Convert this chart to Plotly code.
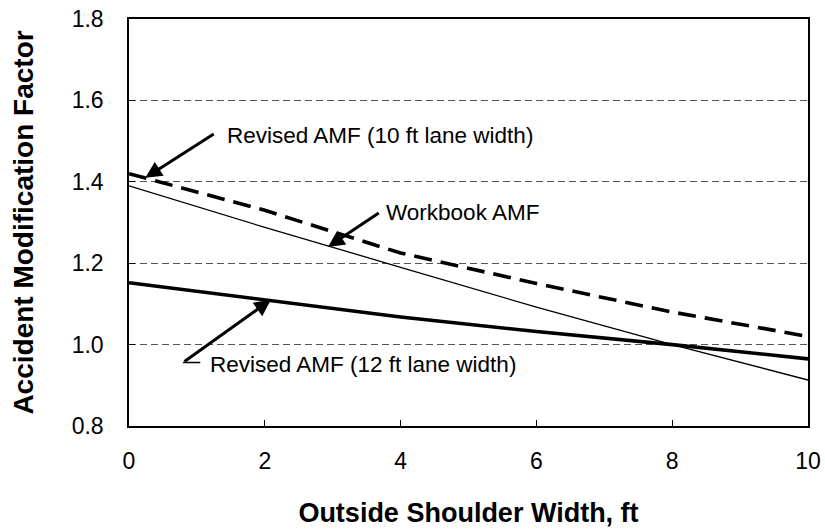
import plotly.graph_objects as go

shoulder_width = [0, 2, 4, 6, 8, 10]
amf_revised_10ft = [1.42, 1.33, 1.225, 1.15, 1.08, 1.02]
amf_workbook = [1.39, 1.288, 1.19, 1.092, 1.0, 0.913]
amf_revised_12ft = [1.152, 1.11, 1.068, 1.032, 1.0, 0.965]

y_ticks = [0.8, 1.0, 1.2, 1.4, 1.6, 1.8]
x_ticks = [0, 2, 4, 6, 8, 10]

FONT = "Liberation Sans, Arial, sans-serif"

fig = go.Figure()
fig.add_trace(go.Scatter(x=shoulder_width, y=amf_workbook, mode="lines",
                         line=dict(color="black", width=1.3), name="Workbook AMF"))
fig.add_trace(go.Scatter(x=shoulder_width, y=amf_revised_12ft, mode="lines",
                         line=dict(color="black", width=3.6), name="Revised AMF (12 ft lane width)"))
fig.add_trace(go.Scatter(x=shoulder_width, y=amf_revised_10ft, mode="lines",
                         line=dict(color="black", width=3.6, dash="18px,9px"),
                         name="Revised AMF (10 ft lane width)"))

ann_font = dict(family=FONT, size=22.5, color="black")
arrow = dict(showarrow=True, arrowhead=2, arrowsize=1.1, arrowwidth=3, arrowcolor="black",
             axref="x", ayref="y", xref="x", yref="y", text="")

annotations = [
    dict(x=0.24, y=1.41, ax=1.27, ay=1.52, **arrow),
    dict(x=2.93, y=1.24, ax=3.70, ay=1.326, **arrow),
    dict(x=2.09, y=1.11, ax=0.795, ay=0.956, **arrow),
    dict(x=1.42, y=1.515, text="Revised AMF (10 ft lane width)", showarrow=False,
         xanchor="left", yanchor="middle", font=ann_font, xref="x", yref="y"),
    dict(x=3.75, y=1.324, text="Workbook AMF", showarrow=False,
         xanchor="left", yanchor="middle", font=ann_font, xref="x", yref="y"),
    dict(x=1.17, y=0.95, text="Revised AMF (12 ft lane width)", showarrow=False,
         xanchor="left", yanchor="middle", font=ann_font, xref="x", yref="y"),
]
fig.update_layout(annotations=annotations)
fig.add_shape(type="line", x0=0.795, y0=0.956, x1=1.05, y1=0.956, xref="x", yref="y",
              line=dict(color="black", width=1.5))

fig.update_layout(
    width=825, height=529,
    margin=dict(l=129, r=17, t=19, b=103),
    paper_bgcolor="white", plot_bgcolor="white",
    showlegend=False,
    font=dict(family=FONT, color="black"),
    xaxis=dict(range=[0, 10], tickvals=x_ticks, ticktext=[str(v) for v in x_ticks],
               showgrid=False, zeroline=False, showline=True, linecolor="black", linewidth=1.5,
               mirror=True, ticks="inside", ticklen=6, tickcolor="black", automargin=False,
               tickfont=dict(size=23), ticklabelstandoff=14,
               title=dict(text="<b>Outside Shoulder Width, ft</b>", font=dict(size=27), standoff=30)),
    yaxis=dict(range=[0.8, 1.8], tickvals=y_ticks, ticktext=[f"{v:.1f}" for v in y_ticks],
               showgrid=True, gridcolor="#555555", griddash="7px,4px", gridwidth=1,
               zeroline=False, showline=True, linecolor="black", linewidth=1.5,
               mirror=True, ticks="inside", ticklen=6, tickcolor="black", automargin=False,
               tickfont=dict(size=23), ticklabelstandoff=19,
               title=dict(text="<b>Accident Modification Factor</b>", font=dict(size=28), standoff=30)),
)

fig.write_html("out.html", config={"displayModeBar": False},
               post_script="document.body.style.margin='0';document.body.style.overflow='hidden';")
